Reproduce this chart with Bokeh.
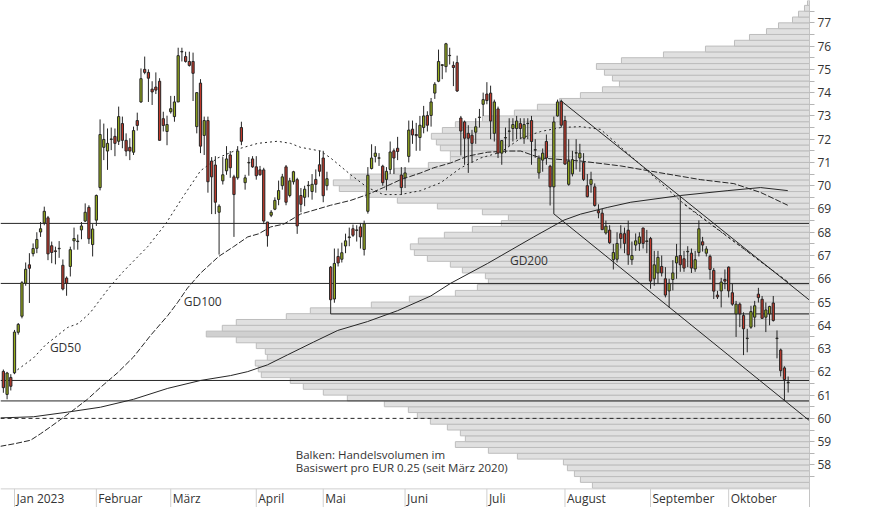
import numpy as np
from bokeh.plotting import figure
from bokeh.models import Range1d, FixedTicker, Label
from bokeh.core.properties import value
from bokeh.embed import file_html
from bokeh.resources import INLINE

# ---------------- data ----------------
opens = [62.02, 61.03, 61.76, 61.96, 63.70, 64.39, 65.81, 66.60, 67.08, 67.31,
         68.01, 68.40, 68.62, 67.42, 67.20, 67.29, 66.58, 66.03, 66.53, 67.63,
         67.60, 68.10, 68.48, 69.07, 67.47, 68.52, 69.92, 71.65, 71.49, 71.99,
         72.12, 71.91, 72.67, 71.95, 71.65, 71.44, 72.80, 73.60, 75.00, 74.87,
         74.15, 74.24, 74.49, 72.88, 72.33, 73.18, 72.97, 73.60, 75.75, 75.55,
         75.34, 75.34, 72.54, 74.41, 72.16, 72.80, 71.06, 70.89, 68.86, 70.21,
         70.64, 71.32, 70.38, 70.34, 72.50, 70.13, 70.98, 71.15, 70.81, 70.68,
         70.68, 68.44, 68.73, 68.99, 69.41, 70.00, 70.81, 69.58, 70.17, 70.26,
         69.58, 69.50, 70.00, 69.75, 70.27, 70.90, 71.19, 70.00, 66.50, 65.13,
         66.96, 66.84, 67.41, 67.77, 68.15, 68.08, 68.23, 67.26, 68.90, 70.74,
         71.26, 71.18, 70.84, 70.27, 70.70, 71.50, 71.61, 70.46, 70.34, 71.26,
         72.43, 72.20, 72.07, 72.50, 73.02, 73.02, 73.98, 74.49, 75.17, 75.12,
         75.59, 75.17, 75.29, 72.91, 72.74, 72.25, 72.17, 72.30, 72.93, 73.50,
         73.94, 73.98, 72.25, 73.30, 71.40, 72.05, 72.34, 72.46, 72.46, 72.67,
         72.04, 72.67, 72.80, 71.53, 70.55, 71.10, 71.90, 70.84, 69.95, 73.00,
         73.62, 72.80, 70.06, 70.51, 71.40, 71.19, 71.00, 70.00, 70.06, 69.95,
         68.93, 68.82, 67.97, 68.09, 66.82, 66.84, 67.94, 67.94, 68.09, 66.82,
         67.45, 67.52, 68.18, 67.60, 67.73, 66.00, 66.25, 66.53, 66.00, 65.48,
         65.97, 66.68, 67.00, 66.86, 67.16, 67.10, 66.42, 67.13, 67.59, 67.10,
         66.96, 66.36, 65.30, 65.48, 65.97, 66.50, 65.40, 64.49, 64.91, 64.42,
         63.43, 63.92, 64.35, 65.34, 65.12, 64.35, 64.49, 64.96, 63.43, 62.94,
         62.17, 61.53]
highs = [62.10, 62.00, 61.90, 63.80, 64.10, 65.90, 66.70, 67.10, 67.52, 68.00,
         68.44, 69.10, 68.70, 67.60, 67.38, 67.62, 66.83, 66.10, 67.38, 68.20,
         67.90, 68.44, 69.24, 69.16, 68.35, 69.62, 72.85, 72.67, 72.46, 72.50,
         72.46, 73.40, 72.97, 72.25, 72.04, 72.54, 73.14, 75.04, 75.55, 75.00,
         74.49, 74.87, 74.62, 73.18, 73.01, 73.86, 73.86, 75.93, 75.93, 75.76,
         75.76, 75.72, 74.02, 74.58, 72.97, 72.97, 71.23, 71.27, 69.20, 71.23,
         71.70, 71.49, 70.47, 71.70, 72.75, 70.47, 71.23, 71.27, 71.27, 70.85,
         70.77, 68.44, 68.95, 69.50, 70.22, 70.51, 70.89, 70.34, 70.64, 70.34,
         69.90, 70.00, 70.20, 70.50, 70.70, 71.50, 71.50, 70.60, 66.55, 67.30,
         67.30, 67.55, 67.94, 68.20, 68.33, 68.30, 68.40, 68.50, 70.80, 71.78,
         71.70, 71.40, 70.90, 70.80, 71.90, 71.60, 72.10, 70.80, 70.80, 72.80,
         72.80, 72.70, 73.00, 73.43, 73.20, 73.77, 74.45, 75.85, 75.21, 76.14,
         75.93, 75.34, 75.59, 73.00, 72.80, 72.60, 72.40, 72.90, 73.30, 74.00,
         74.45, 74.30, 73.70, 73.40, 71.96, 72.50, 72.90, 72.90, 73.00, 72.90,
         72.90, 72.90, 73.00, 72.00, 71.30, 71.60, 72.20, 70.90, 72.97, 73.70,
         73.70, 73.00, 72.00, 71.50, 72.00, 71.80, 71.40, 70.50, 70.60, 70.10,
         69.20, 69.00, 68.50, 68.30, 67.50, 68.00, 68.30, 68.20, 68.50, 67.60,
         67.95, 68.00, 68.20, 68.10, 67.80, 67.20, 67.20, 67.00, 66.50, 66.00,
         66.80, 67.50, 69.55, 67.20, 67.40, 67.30, 67.20, 68.51, 67.80, 67.40,
         67.04, 66.46, 65.48, 66.04, 66.40, 66.53, 65.80, 65.05, 64.98, 64.56,
         63.85, 64.84, 65.05, 65.61, 65.26, 64.98, 64.84, 65.26, 63.78, 63.00,
         62.24, 61.80]
lows = [61.10, 60.82, 61.20, 61.90, 63.60, 64.30, 65.70, 64.96, 66.96, 67.10,
        67.80, 68.30, 66.80, 66.67, 66.62, 66.90, 65.50, 65.27, 66.10, 67.25,
        67.25, 67.70, 68.44, 67.50, 66.96, 68.27, 69.80, 71.10, 70.68, 71.53,
        71.27, 71.75, 71.61, 71.27, 71.10, 71.32, 72.37, 73.56, 74.79, 73.60,
        73.47, 73.94, 71.95, 72.33, 71.74, 73.10, 72.75, 73.60, 75.34, 75.29,
        75.12, 73.64, 72.25, 71.40, 71.32, 69.70, 68.78, 68.78, 67.04, 70.05,
        70.47, 70.34, 67.80, 70.26, 71.74, 69.83, 70.43, 70.77, 70.26, 70.43,
        68.35, 67.38, 68.65, 68.95, 69.16, 69.83, 69.16, 69.50, 70.05, 67.93,
        68.86, 69.12, 69.50, 69.40, 69.70, 70.40, 69.29, 69.80, 64.49, 64.97,
        66.53, 66.70, 67.10, 67.40, 67.80, 67.60, 67.30, 67.00, 68.80, 70.70,
        71.00, 70.85, 70.00, 69.80, 70.50, 70.50, 71.10, 69.60, 69.90, 71.00,
        71.80, 71.50, 71.50, 72.25, 72.33, 72.54, 73.73, 74.45, 74.58, 74.87,
        75.21, 74.28, 74.03, 71.30, 70.90, 70.55, 71.00, 71.80, 72.50, 73.00,
        73.50, 72.00, 71.90, 71.19, 70.90, 71.40, 71.70, 71.90, 72.00, 72.00,
        71.80, 72.00, 70.90, 71.20, 70.30, 70.60, 70.90, 69.15, 68.79, 72.97,
        72.50, 70.90, 70.00, 70.40, 70.70, 70.60, 70.20, 69.50, 69.70, 69.10,
        68.60, 68.10, 67.90, 67.50, 66.40, 66.70, 67.30, 67.10, 66.60, 66.60,
        67.20, 67.20, 67.30, 67.10, 65.57, 65.70, 65.80, 66.10, 65.20, 64.77,
        65.50, 66.00, 66.30, 66.30, 66.50, 66.25, 66.30, 66.96, 67.17, 66.96,
        65.97, 65.13, 65.13, 64.77, 65.55, 65.20, 64.84, 63.50, 63.92, 62.72,
        62.84, 63.85, 63.92, 64.98, 64.28, 63.71, 64.00, 64.16, 62.58, 61.80,
        60.75, 61.11]
closes = [61.32, 61.95, 61.38, 63.71, 64.04, 65.83, 66.41, 66.45, 67.30, 67.69,
          68.15, 68.90, 67.07, 67.13, 67.17, 67.31, 65.56, 65.81, 67.25, 67.73,
          67.62, 68.27, 68.86, 67.72, 68.14, 69.58, 72.20, 71.99, 71.82, 72.01,
          71.82, 72.97, 71.95, 71.49, 71.49, 72.37, 72.59, 74.60, 74.87, 74.62,
          74.03, 74.11, 71.95, 72.59, 72.63, 73.31, 73.60, 75.59, 75.77, 75.34,
          75.17, 74.83, 74.00, 71.70, 72.80, 70.17, 70.38, 69.29, 69.12, 70.47,
          71.15, 70.77, 69.62, 71.49, 71.91, 70.34, 71.00, 70.81, 70.43, 70.47,
          68.48, 67.85, 68.86, 69.37, 69.79, 70.38, 69.29, 70.21, 70.60, 68.27,
          69.20, 69.85, 70.02, 70.06, 70.06, 70.62, 69.57, 70.30, 65.10, 66.66,
          66.68, 67.12, 67.63, 67.80, 67.87, 68.10, 67.80, 68.37, 70.45, 71.19,
          71.40, 71.20, 70.13, 70.62, 71.45, 71.19, 71.47, 69.92, 70.55, 72.39,
          72.18, 72.15, 72.60, 73.00, 72.60, 73.60, 74.36, 75.34, 75.20, 76.10,
          75.60, 75.08, 74.07, 72.35, 72.04, 72.04, 71.82, 72.53, 72.95, 73.70,
          73.66, 72.78, 73.60, 71.40, 71.94, 72.07, 72.35, 72.63, 72.78, 72.46,
          72.63, 72.68, 71.90, 71.55, 71.19, 71.40, 71.19, 69.95, 72.74, 73.60,
          72.60, 70.93, 71.05, 71.12, 71.42, 71.40, 70.27, 69.53, 70.27, 69.15,
          68.83, 68.11, 68.26, 67.55, 67.13, 67.52, 67.73, 67.52, 67.03, 67.00,
          67.63, 67.80, 67.52, 67.63, 65.90, 66.60, 66.92, 66.25, 65.30, 65.80,
          66.25, 66.96, 66.60, 66.46, 67.18, 66.46, 66.82, 68.15, 67.45, 67.28,
          66.40, 65.47, 65.22, 65.86, 65.90, 65.48, 64.91, 64.91, 64.49, 63.85,
          63.45, 64.59, 64.84, 65.19, 64.30, 64.66, 64.81, 64.21, 63.45, 62.05,
          61.67, 61.55]

# trading-day index of the first trading day of each month
month_labels = ["Jan 2023", "Februar", "März", "April", "Mai", "Juni", "Juli",
                "August", "September", "Oktober"]
month_start = [3, 25, 45, 68, 86, 108, 130, 151, 174, 195]

# volume profile: bins of EUR 0.25, lower edge from 57.00 upward
profile_low = [57.0 + 0.25 * k for k in range(84)]
profile_volume = [217, 229, 235, 242, 246, 292, 321, 354, 344, 349, 362, 379,
                  392, 401, 425, 462, 486, 506, 519, 548, 551, 554, 542, 544,
                  553, 573, 603, 587, 573, 523, 499, 438, 400, 354, 332, 321,
                  324, 347, 359, 382, 395, 399, 391, 365, 337, 308, 301, 327,
                  372, 412, 444, 470, 476, 459, 415, 381, 359, 359, 369, 373,
                  378, 367, 354, 327, 295, 272, 250, 229, 207, 190, 197, 205,
                  213, 188, 146, 104, 75, 60, 43, 31, 17, 11, 5, 2]

# moving averages (day index, value)
gd50_x = [2.7, 8.1, 11.3, 17.3, 20.2, 23.4, 28.8, 32.3, 38.8, 43.6, 48.2, 53.0,
          57.6, 63.8, 68.4, 73.7, 77.2, 79.9, 85.3, 88.0, 93.4, 97.9, 102.2,
          106.8, 112.2, 117.6, 123.0, 128.3, 133.7, 139.1, 144.5, 149.9, 155.2,
          160.6, 171.4, 184.0, 198.3, 210.9]
gd50_y = [61.96, 62.60, 63.15, 63.91, 64.08, 64.55, 65.69, 66.32, 67.38, 68.35,
          69.50, 70.64, 71.19, 71.61, 71.82, 71.91, 71.82, 71.65, 71.49, 71.19,
          70.47, 69.92, 69.62, 69.62, 69.79, 70.13, 70.77, 71.19, 71.44, 72.04,
          72.33, 72.50, 72.54, 72.42, 70.89, 69.07, 67.38, 65.86]
gd100_x = [-0.8, 3.3, 7.3, 10.0, 12.7, 18.1, 22.6, 26.1, 30.7, 35.0, 39.6, 44.2,
           46.8, 49.5, 53.0, 57.9, 61.9, 65.7, 68.6, 71.9, 75.4, 79.9, 88.0,
           93.4, 97.9, 102.2, 106.8, 112.2, 115.7, 120.3, 124.8, 130.2, 135.6,
           139.1, 144.5, 155.2, 166.0, 176.8, 187.5, 196.4, 203.6, 210.9]
gd100_y = [58.80, 58.92, 59.06, 59.34, 59.64, 60.27, 60.82, 61.33, 61.96, 62.64,
           63.57, 64.42, 64.97, 65.60, 66.24, 66.96, 67.38, 67.80, 67.93, 68.23,
           68.35, 68.78, 69.16, 69.37, 69.62, 69.92, 70.26, 70.55, 70.77, 70.98,
           71.27, 71.44, 71.49, 71.49, 71.19, 71.06, 70.85, 70.55, 70.26, 70.09,
           69.71, 69.16]
gd200_x = [-0.8, 8.1, 17.3, 26.1, 35.0, 44.2, 53.0, 61.1, 65.7, 71.0, 76.4,
           83.4, 89.9, 97.9, 106.0, 114.9, 120.3, 130.2, 142.6, 150.7, 155.2,
           162.5, 168.7, 182.1, 194.8, 203.6, 210.9]
gd200_y = [60.02, 60.07, 60.27, 60.48, 60.82, 61.29, 61.63, 61.84, 62.01, 62.30,
           62.73, 63.28, 63.78, 64.16, 64.63, 65.26, 65.81, 66.66, 67.80, 68.52,
           68.78, 69.07, 69.29, 69.58, 69.79, 69.92, 69.79]

# horizontal support / resistance levels
levels_full = [68.38, 65.80, 61.63, 60.75]
level_from_may = 64.49          # starts at the low of day index 88
level_from_may_start = 88
level_dashed = 60.0

# trend lines (day index, price)
trend_upper_x, trend_upper_y = [149.85, 216.74], [73.66, 65.08]
trend_lower_x, trend_lower_y = [148.0, 216.74], [68.79, 59.90]
trend_dash_x, trend_dash_y = [183.2, 211.7], [69.20, 65.77]

# ---------------- figure ----------------
X_START, X_END = -0.77, 216.74
Y_START, Y_END = 56.17, 77.96
AXIS_Y = 56.97
VOL_FULL = 808.7  # profile volume that would span the whole plot width

TXT = "#333333"
FONT = "Open Sans"
DARK = "#262626"

p = figure(width=866, height=507,
           x_range=Range1d(X_START, X_END), y_range=Range1d(Y_START, Y_END),
           output_backend="svg", toolbar_location=None,
           y_axis_location="right", x_axis_location=None,
           min_border_left=0, min_border_top=0, min_border_bottom=0,
           min_border_right=57, outline_line_color=None,
           background_fill_color="white", border_fill_color="white")
p.grid.visible = False
p.extra_x_ranges = {"vol": Range1d(start=VOL_FULL, end=0)}

# volume profile
vmax = max(profile_volume)
prof_colors = ["#d0d0d0" if v == vmax else "#e0e0e0" for v in profile_volume]
p.hbar(y=[b + 0.125 for b in profile_low], height=0.25, left=0,
       right=profile_volume, x_range_name="vol",
       fill_color=prof_colors, line_color="#bdbdbd", line_width=1)

# x-axis strip (drawn inside the frame)
p.segment(x0=[X_START], y0=[AXIS_Y], x1=[X_END], y1=[AXIS_Y],
          line_color="#cfcfcf", line_width=1)
p.segment(x0=month_start, y0=[AXIS_Y] * len(month_start), x1=month_start,
          y1=[Y_START] * len(month_start), line_color="#cfcfcf", line_width=1)
p.text(x=month_start, y=[(AXIS_Y + Y_START) / 2] * len(month_start),
       text=month_labels, x_offset=2, text_align="left", text_baseline="middle",
       text_font=value(FONT), text_font_size="12px", text_color=TXT)

# horizontal levels
n = len(levels_full)
p.segment(x0=[X_START] * n, y0=levels_full, x1=[X_END] * n, y1=levels_full,
          line_color=DARK, line_width=1)
p.segment(x0=[level_from_may_start], y0=[level_from_may], x1=[X_END],
          y1=[level_from_may], line_color=DARK, line_width=1)
p.segment(x0=[X_START], y0=[level_dashed], x1=[X_END], y1=[level_dashed],
          line_color=DARK, line_width=1, line_dash="4 3")

# moving averages
p.line(gd200_x, gd200_y, line_color=DARK, line_width=1)
p.line(gd100_x, gd100_y, line_color=DARK, line_width=1, line_dash="6 2")
p.line(gd50_x, gd50_y, line_color=DARK, line_width=1, line_dash="2 3")

# trend lines
p.line(trend_upper_x, trend_upper_y, line_color=DARK, line_width=1)
p.line(trend_lower_x, trend_lower_y, line_color=DARK, line_width=1)
p.line(trend_dash_x, trend_dash_y, line_color=DARK, line_width=1, line_dash="3 3")

# candles
o = np.array(opens); h = np.array(highs); l = np.array(lows); c = np.array(closes)
idx = np.arange(len(o))
cand_colors = ["#96ad1b" if cc >= oo else "#c0392b" for oo, cc in zip(o, c)]
p.segment(x0=idx, y0=l, x1=idx, y1=h, line_color=DARK, line_width=1)
p.vbar(x=idx, width=0.6, top=np.maximum(o, c), bottom=np.minimum(o, c),
       fill_color=cand_colors, line_color=DARK, line_width=1)

# labels
for txt, x, y in [("GD50", 16.7, 63.06), ("GD100", 53.6, 65.01), ("GD200", 141.3, 66.79)]:
    p.add_layout(Label(x=x, y=y, text=txt, text_align="center",
                       text_baseline="middle", text_font=FONT,
                       text_font_size="12px", text_color=TXT))
for txt, y in [("Balken: Handelsvolumen im", 58.46),
               ("Basiswert pro EUR 0.25 (seit März 2020)", 57.90)]:
    p.add_layout(Label(x=78.6, y=y, text=txt, text_align="left",
                       text_baseline="middle", text_font=FONT,
                       text_font_size="11.5px", text_color=TXT))

# right price axis
yax = p.yaxis[0]
yax.ticker = FixedTicker(ticks=list(range(58, 78)),
                         minor_ticks=[57.5 + k for k in range(21)])
yax.major_tick_out = 5
yax.major_tick_in = 0
yax.minor_tick_out = 5
yax.minor_tick_in = 0
yax.axis_line_color = "#c4c4c4"
yax.major_tick_line_color = "#b4b4b4"
yax.minor_tick_line_color = "#b4b4b4"
yax.major_label_text_font = FONT
yax.major_label_text_font_size = "12px"
yax.major_label_text_color = TXT
yax.major_label_standoff = 3

open("out.html", "w").write(file_html(p, INLINE))
